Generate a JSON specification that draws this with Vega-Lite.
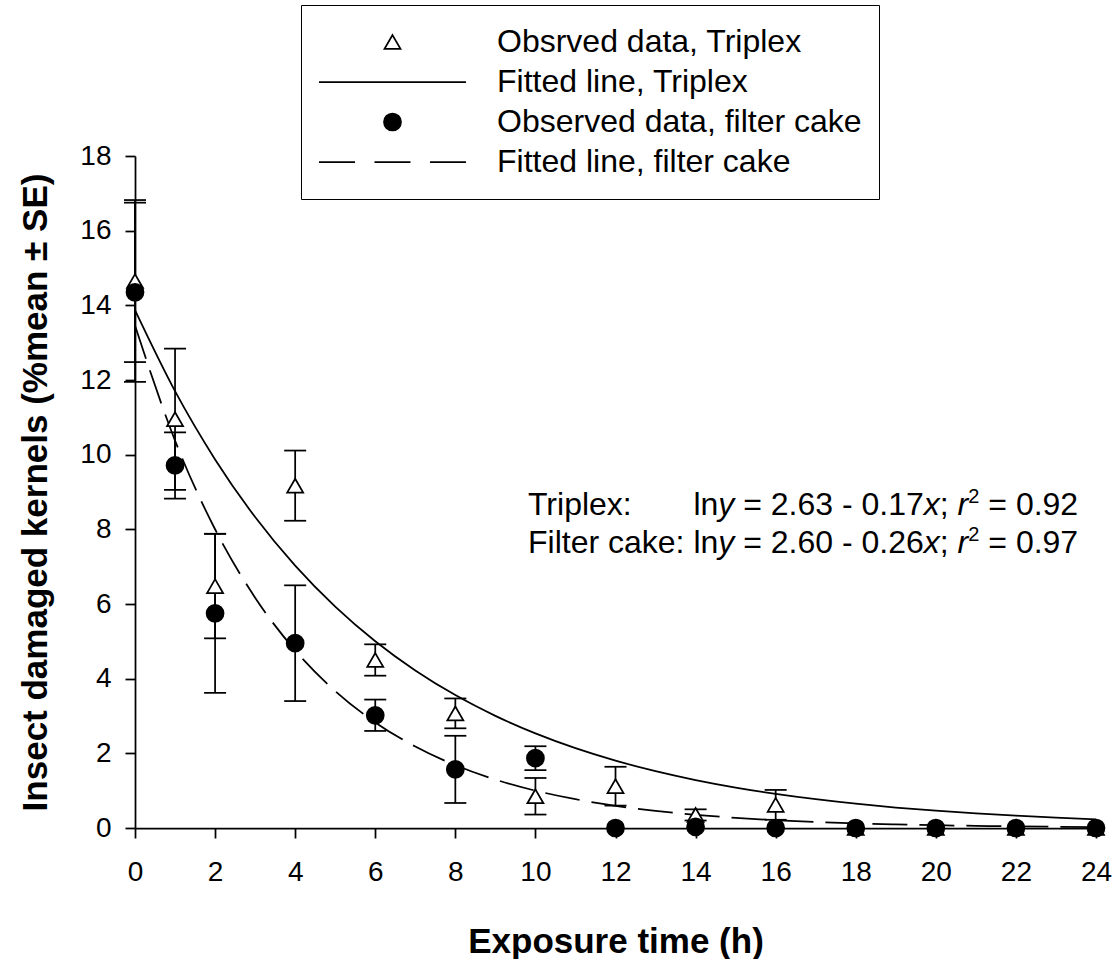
{
  "$schema": "https://vega.github.io/schema/vega-lite/v6.json",
  "width": 961,
  "height": 672,
  "autosize": {"type": "none"},
  "padding": {"left": 135, "top": 156, "right": 21, "bottom": 131},
  "background": "white",
  "config": {
    "view": {"stroke": null},
    "font": "Liberation Sans",
    "axis": {
      "grid": false,
      "domainColor": "black",
      "domainWidth": 1.75,
      "tickColor": "black",
      "tickWidth": 1.75,
      "tickSize": 10,
      "labelFont": "Liberation Sans",
      "labelFontSize": 28,
      "labelColor": "black",
      "labelFlush": false,
      "titleFont": "Liberation Sans",
      "titleFontSize": 35,
      "titleFontWeight": "bold",
      "titleColor": "black"
    },
    "legend": {
      "title": null,
      "orient": "none",
      "legendX": 166,
      "legendY": -151,
      "padding": 17,
      "strokeColor": "black",
      "fillColor": "white",
      "clipHeight": 40,
      "rowPadding": 0,
      "labelOffset": 30,
      "labelFont": "Liberation Sans",
      "labelFontSize": 32,
      "labelColor": "black",
      "labelLimit": 600,
      "symbolSize": 21609,
      "symbolStrokeColor": "black",
      "symbolStrokeWidth": 1.75,
      "symbolOpacity": 1
    }
  },
  "datasets": {
    "obs": [
      {"x": 0, "series": "Obsrved data, Triplex", "mean": 14.65, "lo": 12.48, "hi": 16.82},
      {"x": 1, "series": "Obsrved data, Triplex", "mean": 10.95, "lo": 9.06, "hi": 12.84},
      {"x": 2, "series": "Obsrved data, Triplex", "mean": 6.48, "lo": 5.08, "hi": 7.88},
      {"x": 4, "series": "Obsrved data, Triplex", "mean": 9.17, "lo": 8.23, "hi": 10.11},
      {"x": 6, "series": "Obsrved data, Triplex", "mean": 4.5, "lo": 4.08, "hi": 4.92},
      {"x": 8, "series": "Obsrved data, Triplex", "mean": 3.07, "lo": 2.67, "hi": 3.47},
      {"x": 10, "series": "Obsrved data, Triplex", "mean": 0.85, "lo": 0.36, "hi": 1.34},
      {"x": 12, "series": "Obsrved data, Triplex", "mean": 1.12, "lo": 0.6, "hi": 1.64},
      {"x": 14, "series": "Obsrved data, Triplex", "mean": 0.35, "lo": 0.2, "hi": 0.5},
      {"x": 16, "series": "Obsrved data, Triplex", "mean": 0.62, "lo": 0.22, "hi": 1.02},
      {"x": 18, "series": "Obsrved data, Triplex", "mean": 0},
      {"x": 20, "series": "Obsrved data, Triplex", "mean": 0},
      {"x": 22, "series": "Obsrved data, Triplex", "mean": 0},
      {"x": 24, "series": "Obsrved data, Triplex", "mean": 0},
      {"x": 0, "series": "Observed data, filter cake", "mean": 14.35, "lo": 11.95, "hi": 16.75},
      {"x": 1, "series": "Observed data, filter cake", "mean": 9.71, "lo": 8.82, "hi": 10.6},
      {"x": 2, "series": "Observed data, filter cake", "mean": 5.75, "lo": 3.62, "hi": 7.88},
      {"x": 4, "series": "Observed data, filter cake", "mean": 4.95, "lo": 3.4, "hi": 6.5},
      {"x": 6, "series": "Observed data, filter cake", "mean": 3.02, "lo": 2.6, "hi": 3.44},
      {"x": 8, "series": "Observed data, filter cake", "mean": 1.57, "lo": 0.67, "hi": 2.47},
      {"x": 10, "series": "Observed data, filter cake", "mean": 1.87, "lo": 1.55, "hi": 2.19},
      {"x": 12, "series": "Observed data, filter cake", "mean": 0},
      {"x": 14, "series": "Observed data, filter cake", "mean": 0.03},
      {"x": 16, "series": "Observed data, filter cake", "mean": 0},
      {"x": 18, "series": "Observed data, filter cake", "mean": 0},
      {"x": 20, "series": "Observed data, filter cake", "mean": 0},
      {"x": 22, "series": "Observed data, filter cake", "mean": 0},
      {"x": 24, "series": "Observed data, filter cake", "mean": 0}
    ],
    "fitT": [
      {"x": 0, "y": 13.87}, {"x": 1, "y": 11.70}, {"x": 2, "y": 9.873}, {"x": 3, "y": 8.329},
      {"x": 4, "y": 7.027}, {"x": 5, "y": 5.929}, {"x": 6, "y": 5.002}, {"x": 7, "y": 4.220},
      {"x": 8, "y": 3.560}, {"x": 9, "y": 3.004}, {"x": 10, "y": 2.534}, {"x": 11, "y": 2.138},
      {"x": 12, "y": 1.804}, {"x": 13, "y": 1.522}, {"x": 14, "y": 1.284}, {"x": 15, "y": 1.083},
      {"x": 16, "y": 0.914}, {"x": 17, "y": 0.771}, {"x": 18, "y": 0.650}, {"x": 19, "y": 0.549},
      {"x": 20, "y": 0.463}, {"x": 21, "y": 0.390}, {"x": 22, "y": 0.329}, {"x": 23, "y": 0.278},
      {"x": 24, "y": 0.234}
    ],
    "fitF": [
      {"x": 0, "y": 13.46}, {"x": 1, "y": 10.378}, {"x": 2, "y": 8.002}, {"x": 3, "y": 6.170},
      {"x": 4, "y": 4.757}, {"x": 5, "y": 3.668}, {"x": 6, "y": 2.828}, {"x": 7, "y": 2.181},
      {"x": 8, "y": 1.682}, {"x": 9, "y": 1.297}, {"x": 10, "y": 1.000}, {"x": 11, "y": 0.771},
      {"x": 12, "y": 0.594}, {"x": 13, "y": 0.458}, {"x": 14, "y": 0.353}, {"x": 15, "y": 0.272},
      {"x": 16, "y": 0.210}, {"x": 17, "y": 0.162}, {"x": 18, "y": 0.125}, {"x": 19, "y": 0.096},
      {"x": 20, "y": 0.074}, {"x": 21, "y": 0.057}, {"x": 22, "y": 0.044}, {"x": 23, "y": 0.034},
      {"x": 24, "y": 0.026}
    ],
    "one": [{}]
  },
  "layer": [
    {
      "data": {"name": "fitT"},
      "mark": {"type": "line", "color": "black", "strokeWidth": 1.75, "interpolate": "monotone"},
      "encoding": {
        "x": {"field": "x", "type": "quantitative", "scale": {"domain": [0, 24], "nice": false},
          "axis": {"title": "Exposure time (h)", "values": [0, 2, 4, 6, 8, 10, 12, 14, 16, 18, 20, 22, 24], "labelPadding": 20, "titlePadding": 38}},
        "y": {"field": "y", "type": "quantitative", "scale": {"domain": [0, 18], "nice": false},
          "axis": {"title": "Insect damaged kernels (%mean ± SE)", "values": [0, 2, 4, 6, 8, 10, 12, 14, 16, 18], "labelPadding": 14, "titlePadding": 26}}
      }
    },
    {
      "data": {"name": "fitF"},
      "mark": {"type": "line", "color": "black", "strokeWidth": 1.75, "strokeDash": [35, 12], "interpolate": "monotone"},
      "encoding": {
        "x": {"field": "x", "type": "quantitative"},
        "y": {"field": "y", "type": "quantitative"}
      }
    },
    {
      "data": {"name": "obs"},
      "transform": [{"filter": "isValid(datum.lo)"}],
      "mark": {"type": "rule", "color": "black", "strokeWidth": 1.75},
      "encoding": {
        "x": {"field": "x", "type": "quantitative"},
        "y": {"field": "lo", "type": "quantitative"},
        "y2": {"field": "hi"}
      }
    },
    {
      "data": {"name": "obs"},
      "transform": [{"filter": "isValid(datum.lo)"}],
      "mark": {"type": "tick", "orient": "horizontal", "color": "black", "size": 22, "thickness": 1.75, "opacity": 1},
      "encoding": {
        "x": {"field": "x", "type": "quantitative"},
        "y": {"field": "lo", "type": "quantitative"}
      }
    },
    {
      "data": {"name": "obs"},
      "transform": [{"filter": "isValid(datum.hi)"}],
      "mark": {"type": "tick", "orient": "horizontal", "color": "black", "size": 22, "thickness": 1.75, "opacity": 1},
      "encoding": {
        "x": {"field": "x", "type": "quantitative"},
        "y": {"field": "hi", "type": "quantitative"}
      }
    },
    {
      "data": {"name": "obs"},
      "mark": {"type": "point", "size": 21609, "strokeWidth": 1.75, "opacity": 1},
      "encoding": {
        "x": {"field": "x", "type": "quantitative"},
        "y": {"field": "mean", "type": "quantitative"},
        "shape": {
          "field": "series", "type": "nominal",
          "scale": {
            "domain": ["Obsrved data, Triplex", "Fitted line, Triplex", "Observed data, filter cake", "Fitted line, filter cake"],
            "range": [
              "M0,-0.0942L0.1088,0.0942L-0.1088,0.0942Z",
              "M-1,0H1",
              "M0.1156,0A0.1156,0.1156,0,1,1,-0.1156,0A0.1156,0.1156,0,1,1,0.1156,0Z",
              "M-1,0H-0.51M-0.245,0H0.245M0.51,0H1"
            ]
          }
        },
        "fill": {
          "field": "series", "type": "nominal",
          "scale": {
            "domain": ["Obsrved data, Triplex", "Fitted line, Triplex", "Observed data, filter cake", "Fitted line, filter cake"],
            "range": ["white", "transparent", "black", "transparent"]
          }
        },
        "stroke": {
          "field": "series", "type": "nominal",
          "scale": {
            "domain": ["Obsrved data, Triplex", "Fitted line, Triplex", "Observed data, filter cake", "Fitted line, filter cake"],
            "range": ["black", "black", "black", "black"]
          }
        }
      }
    },
    {"data": {"name": "one"}, "mark": {"type": "text", "align": "left", "baseline": "alphabetic", "fontSize": 32, "color": "black"},
     "encoding": {"x": {"datum": 9.815, "type": "quantitative"}, "y": {"datum": 8.385, "type": "quantitative"}, "text": {"value": "Triplex:"}}},
    {"data": {"name": "one"}, "mark": {"type": "text", "align": "left", "baseline": "alphabetic", "fontSize": 32, "color": "black", "dx": 165.4},
     "encoding": {"x": {"datum": 9.815, "type": "quantitative"}, "y": {"datum": 8.385, "type": "quantitative"}, "text": {"value": "ln"}}},
    {"data": {"name": "one"}, "mark": {"type": "text", "align": "left", "baseline": "alphabetic", "fontSize": 32, "fontStyle": "italic", "color": "black", "dx": 190.3},
     "encoding": {"x": {"datum": 9.815, "type": "quantitative"}, "y": {"datum": 8.385, "type": "quantitative"}, "text": {"value": "y"}}},
    {"data": {"name": "one"}, "mark": {"type": "text", "align": "left", "baseline": "alphabetic", "fontSize": 32, "color": "black", "dx": 215.2},
     "encoding": {"x": {"datum": 9.815, "type": "quantitative"}, "y": {"datum": 8.385, "type": "quantitative"}, "text": {"value": "= 2.63 - 0.17"}}},
    {"data": {"name": "one"}, "mark": {"type": "text", "align": "left", "baseline": "alphabetic", "fontSize": 32, "fontStyle": "italic", "color": "black", "dx": 395.8},
     "encoding": {"x": {"datum": 9.815, "type": "quantitative"}, "y": {"datum": 8.385, "type": "quantitative"}, "text": {"value": "x"}}},
    {"data": {"name": "one"}, "mark": {"type": "text", "align": "left", "baseline": "alphabetic", "fontSize": 32, "color": "black", "dx": 411.8},
     "encoding": {"x": {"datum": 9.815, "type": "quantitative"}, "y": {"datum": 8.385, "type": "quantitative"}, "text": {"value": ";"}}},
    {"data": {"name": "one"}, "mark": {"type": "text", "align": "left", "baseline": "alphabetic", "fontSize": 32, "fontStyle": "italic", "color": "black", "dx": 429.6},
     "encoding": {"x": {"datum": 9.815, "type": "quantitative"}, "y": {"datum": 8.385, "type": "quantitative"}, "text": {"value": "r"}}},
    {"data": {"name": "one"}, "mark": {"type": "text", "align": "left", "baseline": "alphabetic", "fontSize": 20, "color": "black", "dx": 440.3, "dy": -12},
     "encoding": {"x": {"datum": 9.815, "type": "quantitative"}, "y": {"datum": 8.385, "type": "quantitative"}, "text": {"value": "2"}}},
    {"data": {"name": "one"}, "mark": {"type": "text", "align": "left", "baseline": "alphabetic", "fontSize": 32, "color": "black", "dx": 460.3},
     "encoding": {"x": {"datum": 9.815, "type": "quantitative"}, "y": {"datum": 8.385, "type": "quantitative"}, "text": {"value": "= 0.92"}}},
    {"data": {"name": "one"}, "mark": {"type": "text", "align": "left", "baseline": "alphabetic", "fontSize": 32, "color": "black"},
     "encoding": {"x": {"datum": 9.815, "type": "quantitative"}, "y": {"datum": 7.367, "type": "quantitative"}, "text": {"value": "Filter cake: ln"}}},
    {"data": {"name": "one"}, "mark": {"type": "text", "align": "left", "baseline": "alphabetic", "fontSize": 32, "fontStyle": "italic", "color": "black", "dx": 190.3},
     "encoding": {"x": {"datum": 9.815, "type": "quantitative"}, "y": {"datum": 7.367, "type": "quantitative"}, "text": {"value": "y"}}},
    {"data": {"name": "one"}, "mark": {"type": "text", "align": "left", "baseline": "alphabetic", "fontSize": 32, "color": "black", "dx": 215.2},
     "encoding": {"x": {"datum": 9.815, "type": "quantitative"}, "y": {"datum": 7.367, "type": "quantitative"}, "text": {"value": "= 2.60 - 0.26"}}},
    {"data": {"name": "one"}, "mark": {"type": "text", "align": "left", "baseline": "alphabetic", "fontSize": 32, "fontStyle": "italic", "color": "black", "dx": 395.8},
     "encoding": {"x": {"datum": 9.815, "type": "quantitative"}, "y": {"datum": 7.367, "type": "quantitative"}, "text": {"value": "x"}}},
    {"data": {"name": "one"}, "mark": {"type": "text", "align": "left", "baseline": "alphabetic", "fontSize": 32, "color": "black", "dx": 411.8},
     "encoding": {"x": {"datum": 9.815, "type": "quantitative"}, "y": {"datum": 7.367, "type": "quantitative"}, "text": {"value": ";"}}},
    {"data": {"name": "one"}, "mark": {"type": "text", "align": "left", "baseline": "alphabetic", "fontSize": 32, "fontStyle": "italic", "color": "black", "dx": 429.6},
     "encoding": {"x": {"datum": 9.815, "type": "quantitative"}, "y": {"datum": 7.367, "type": "quantitative"}, "text": {"value": "r"}}},
    {"data": {"name": "one"}, "mark": {"type": "text", "align": "left", "baseline": "alphabetic", "fontSize": 20, "color": "black", "dx": 440.3, "dy": -12},
     "encoding": {"x": {"datum": 9.815, "type": "quantitative"}, "y": {"datum": 7.367, "type": "quantitative"}, "text": {"value": "2"}}},
    {"data": {"name": "one"}, "mark": {"type": "text", "align": "left", "baseline": "alphabetic", "fontSize": 32, "color": "black", "dx": 460.3},
     "encoding": {"x": {"datum": 9.815, "type": "quantitative"}, "y": {"datum": 7.367, "type": "quantitative"}, "text": {"value": "= 0.97"}}}
  ]
}
